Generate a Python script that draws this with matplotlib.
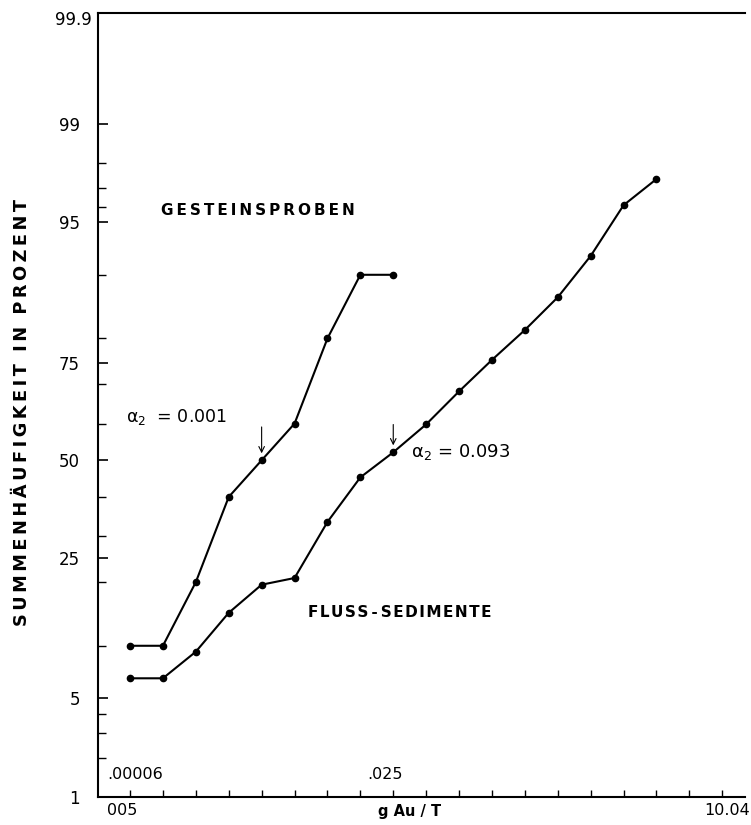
from statistics import NormalDist

import matplotlib

matplotlib.use("Agg")
import matplotlib.pyplot as plt
import matplotlib.transforms as mtransforms
import numpy as np
from matplotlib.ticker import FixedFormatter, FixedLocator, NullFormatter


# class index along the g Au / T axis, cumulative frequency in percent
gestein_x = [0, 1, 2, 3, 4, 5, 6, 7, 8]
gestein_pct = [10, 10, 20, 40, 50, 60, 80, 90, 90]

fluss_x = [0, 1, 2, 3, 4, 5, 6, 7, 8, 9, 10, 11, 12, 13, 14, 15, 16]
fluss_pct = [6.6, 6.6, 9.3, 14.6, 19.5, 20.8, 33.5, 45.3, 52.2, 59.8,
             68.3, 75.6, 81.6, 87.0, 92.1, 96.1, 97.4]

y_major = [1, 5, 25, 50, 75, 95, 99, 99.9]
y_major_labels = ["1", "5", "25", "50", "75", "95", "99", "99.9"]
y_minor = [2, 3, 4, 10, 20, 30, 40, 60, 70, 80, 90, 96, 97, 98]
x_ticks = list(range(19))

_nd = NormalDist()


def to_probit(p):
    p = np.clip(np.asarray(p, dtype=float), 1e-7, 100 - 1e-7)
    return np.vectorize(lambda v: _nd.inv_cdf(v / 100.0), otypes=[float])(p)


def from_probit(z):
    z = np.asarray(z, dtype=float)
    return np.vectorize(lambda v: _nd.cdf(v) * 100.0, otypes=[float])(z)


def spaced(text, gap="\u2009"):
    # letter-spaced caps like the original lettering
    return "  ".join(gap.join(word) for word in text.split(" "))


def main():
    fig = plt.figure(figsize=(7.51, 8.25), dpi=100)
    ax = fig.add_axes([98 / 751, 1 - 797 / 825, (745 - 98) / 751, (797 - 13) / 825])
    ax.set_yscale("function", functions=(to_probit, from_probit))
    ax.set_ylim(1, 99.9)
    ax.set_xlim(-0.973, 18.69)

    line_kw = dict(color="black", lw=1.5, marker="o", ms=4.5, solid_capstyle="round")
    ax.plot(gestein_x, gestein_pct, **line_kw)
    ax.plot(fluss_x, fluss_pct, **line_kw)

    # axes styling
    for side in ["left", "bottom", "top"]:
        ax.spines[side].set_linewidth(1.5)
    ax.spines["right"].set_visible(False)

    ax.yaxis.set_major_locator(FixedLocator(y_major))
    ax.yaxis.set_major_formatter(FixedFormatter(y_major_labels))
    ax.yaxis.set_minor_locator(FixedLocator(y_minor))
    ax.yaxis.set_minor_formatter(NullFormatter())
    ax.tick_params(axis="y", which="major", direction="in", length=7, width=1.2,
                   pad=13, labelsize=12)
    ax.tick_params(axis="y", which="minor", direction="in", length=6, width=1.0)

    # the 99.9 label sits further right in the original
    top_tick = ax.yaxis.get_major_ticks()[-1]
    top_tick.label1.set_transform(
        top_tick.label1.get_transform()
        + mtransforms.ScaledTranslation(0.12, -0.05, fig.dpi_scale_trans)
    )

    ax.xaxis.set_major_locator(FixedLocator(x_ticks))
    ax.xaxis.set_major_formatter(NullFormatter())
    ax.xaxis.set_minor_formatter(NullFormatter())
    ax.tick_params(axis="x", which="major", direction="in", length=5, width=1.0)
    ax.tick_params(axis="x", which="minor", length=0)

    # x axis labels
    xt = ax.get_xaxis_transform()
    ax.text(-0.24, -0.017, "005", transform=xt, ha="center", va="center", fontsize=11.5)
    ax.text(8.5, -0.019, "g Au / T", transform=xt, ha="center", va="center",
            fontsize=10.5, fontweight="semibold")
    ax.text(18.15, -0.017, "10.04", transform=xt, ha="center", va="center", fontsize=11.5)
    ax.text(0.15, 0.029, ".00006", transform=xt, ha="center", va="center", fontsize=11.5)
    ax.text(7.75, 0.029, ".025", transform=xt, ha="center", va="center", fontsize=11.5)

    # curve labels
    ax.text(3.9, 95.8, spaced("GESTEINSPROBEN"), ha="center", va="center",
            fontsize=11, fontweight="bold")
    ax.text(8.2, 14.6, "\u200a".join("FLUSS") + "\u2009-\u2009" + "\u200a".join("SEDIMENTE"),
            ha="center", va="center", fontsize=11, fontweight="bold")

    plt.rcParams["mathtext.default"] = "regular"
    ax.text(-0.12, 60.3, r"$\alpha_{2}$  = 0.001", ha="left", va="baseline", fontsize=12.5)
    ax.text(8.55, 50.8, r"$\alpha_{2}$ = 0.093", ha="left", va="baseline", fontsize=13)

    arrow_kw = dict(arrowstyle="->", color="black", lw=0.8, shrinkA=0, shrinkB=5)
    ax.annotate("", xy=(gestein_x[4], gestein_pct[4]), xytext=(0, 24),
                textcoords="offset points", arrowprops=arrow_kw)
    ax.annotate("", xy=(fluss_x[8], fluss_pct[8]), xytext=(0, 20),
                textcoords="offset points", arrowprops=arrow_kw)

    fig.text(22 / 751, 1 - 412 / 825, spaced("SUMMENHÄUFIGKEIT IN PROZENT"),
             rotation=90, ha="center", va="center", fontsize=12.8, fontweight="bold")

    fig.savefig("out.png", dpi=100)


if __name__ == "__main__":
    main()
